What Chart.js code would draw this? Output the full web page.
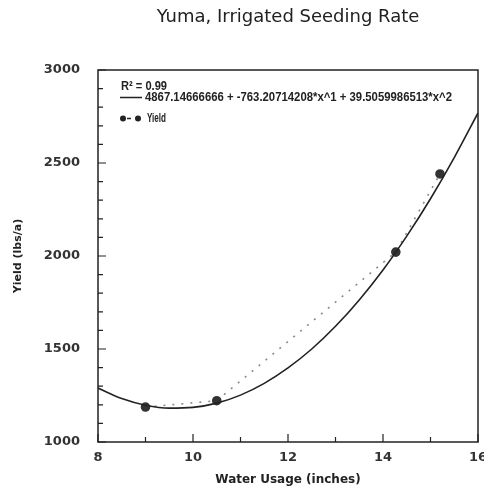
<!DOCTYPE html>
<html>
<head>
<meta charset="utf-8">
<script src="https://cdn.jsdelivr.net/npm/chart.js@4.4.1/dist/chart.umd.min.js"></script>
<style>
  html, body { margin: 0; background: #fff; }
  #wrap { width: 484px; height: 493px; }
</style>
</head>
<body>
<div id="wrap"><canvas id="chart" width="484" height="493"></canvas></div>
<script>
const $ = document.querySelector.bind(document);

// observed yield points
const waterUsage = [9.0, 10.5, 14.27, 15.2];
const yieldValues = [1188, 1222, 2021, 2441];

// fitted quadratic
const fitX = [8, 8.5, 9, 9.5, 10, 10.5, 11, 11.5, 12, 12.5, 13, 13.5, 14, 14.5, 15, 15.5, 16];
const fitY = [1290, 1234, 1198, 1182, 1186, 1209, 1252, 1315, 1398, 1500, 1622, 1764, 1925, 2107, 2308, 2529, 2769];

const xTicks = [8, 10, 12, 14, 16];
const yTicks = [1000, 1500, 2000, 2500, 3000];

const legendR2 = "R\u00b2 = 0.99";
const legendFit = "4867.14666666 + -763.20714208*x^1 + 39.5059986513*x^2";
const legendYield = "Yield";

const INK = "#222";

// box round the plot, with inward ticks
const framePlugin = {
  id: "frame",
  afterDraw(chart) {
    const { ctx, chartArea: a, scales } = chart;
    ctx.save();
    ctx.strokeStyle = INK;
    ctx.lineWidth = 1.5;
    ctx.strokeRect(a.left, a.top, a.right - a.left, a.bottom - a.top);
    ctx.lineWidth = 1.2;
    ctx.beginPath();
    for (let v = 8; v <= 16; v++) {
      const px = scales.x.getPixelForValue(v);
      const len = v % 2 === 0 ? 8 : 5;
      ctx.moveTo(px, a.bottom);
      ctx.lineTo(px, a.bottom - len);
    }
    for (let v = 1000; v <= 3000; v += 100) {
      const py = scales.y.getPixelForValue(v);
      const len = v % 500 === 0 ? 8 : 5;
      ctx.moveTo(a.left, py);
      ctx.lineTo(a.left + len, py);
    }
    ctx.stroke();
    ctx.restore();
  },
};

// legend block inside the plot, top left
const legendPlugin = {
  id: "innerLegend",
  afterDraw(chart) {
    const { ctx } = chart;
    ctx.save();
    ctx.fillStyle = INK;
    ctx.strokeStyle = INK;
    ctx.textBaseline = "middle";
    ctx.font = "bold 12px 'Liberation Sans', Arial, sans-serif";
    ctx.fillText(legendR2, 121, 87, 46);

    ctx.lineWidth = 1.5;
    ctx.beginPath();
    ctx.moveTo(120, 97.5);
    ctx.lineTo(142, 97.5);
    ctx.stroke();
    ctx.fillText(legendFit, 145, 97.5, 307);

    // marker, dash, marker
    ctx.beginPath();
    ctx.arc(123, 118.5, 3, 0, Math.PI * 2);
    ctx.fill();
    ctx.beginPath();
    ctx.moveTo(127, 118.5);
    ctx.lineTo(131, 118.5);
    ctx.stroke();
    ctx.beginPath();
    ctx.arc(138, 118.5, 3, 0, Math.PI * 2);
    ctx.fill();
    ctx.fillText(legendYield, 147, 118.5, 19);
    ctx.restore();
  },
};

const tickFont = { family: "'DejaVu Sans', sans-serif", size: 13, weight: "bold" };

new Chart($("#chart"), {
  data: {
    datasets: [
      {
        type: "line",
        label: "Fit",
        data: fitX.map((x, i) => ({ x, y: fitY[i] })),
        borderColor: INK,
        borderWidth: 1.6,
        pointRadius: 0,
        cubicInterpolationMode: "monotone",
        fill: false,
      },
      {
        type: "line",
        label: legendYield,
        data: waterUsage.map((x, i) => ({ x, y: yieldValues[i] })),
        borderColor: "#8a8a8a",
        borderWidth: 1.6,
        borderDash: [2, 7],
        pointRadius: 4,
        pointBackgroundColor: "#333",
        pointBorderColor: "#333",
        fill: false,
      },
    ],
  },
  options: {
    responsive: false,
    animation: false,
    devicePixelRatio: 1,
    layout: { padding: { top: 0, right: 6, bottom: 0, left: 0 } },
    plugins: {
      legend: { display: false },
      tooltip: { enabled: false },
      title: {
        display: true,
        fullSize: false,
        text: "Yuma, Irrigated Seeding Rate",
        color: "#222",
        font: { family: "'DejaVu Sans', sans-serif", size: 18, weight: "normal" },
        padding: { top: 7, bottom: 41.4 },
      },
    },
    scales: {
      x: {
        type: "linear",
        min: 8,
        max: 16,
        afterBuildTicks: (s) => { s.ticks = xTicks.map((v) => ({ value: v })); },
        afterFit: (s) => { s.height = 51; s.paddingLeft = 0; s.paddingRight = 0; },
        grid: { display: false, drawTicks: false },
        border: { display: false },
        ticks: { color: "#333", font: tickFont, padding: 8, maxRotation: 0, callback: (v) => String(v) },
        title: {
          display: true,
          text: "Water Usage (inches)",
          color: INK,
          font: { family: "'DejaVu Sans', sans-serif", size: 12, weight: "bold" },
          padding: { top: 0, bottom: 5.8 },
        },
      },
      y: {
        type: "linear",
        min: 1000,
        max: 3000,
        afterBuildTicks: (s) => { s.ticks = yTicks.map((v) => ({ value: v })); },
        afterFit: (s) => { s.width = 98; },
        grid: { display: false, drawTicks: false },
        border: { display: false },
        ticks: { color: "#333", font: tickFont, padding: 18, callback: (v) => String(v) },
        title: {
          display: true,
          text: "Yield (lbs/a)",
          color: INK,
          font: { family: "'DejaVu Sans', sans-serif", size: 11, weight: "bold" },
          padding: { top: 11.4, bottom: 0 },
        },
      },
    },
  },
  plugins: [framePlugin, legendPlugin],
});
</script>
</body>
</html>
